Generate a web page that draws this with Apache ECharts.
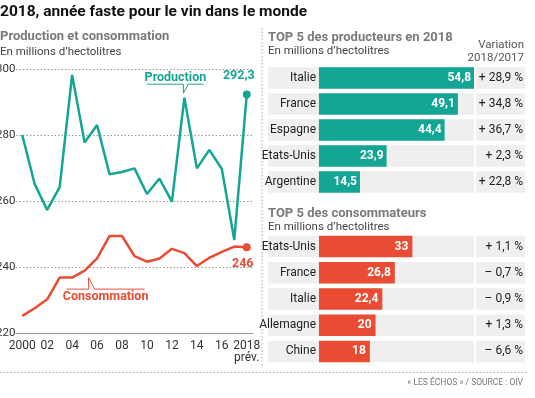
<!DOCTYPE html>
<html>
<head>
<meta charset="utf-8">
<script src="https://cdn.jsdelivr.net/npm/echarts@6/dist/echarts.min.js"></script>
<style>
html,body{margin:0;padding:0;background:#fff;}
#c{width:535px;height:398px;}
</style>
</head>
<body>
<div id="c"></div>
<script>
// ---- Data ----
const years = ['2000','2001','2002','2003','2004','2005','2006','2007','2008','2009','2010','2011','2012','2013','2014','2015','2016','2017','2018'];
const yearTickLabels = ['2000','01','02','03','04','05','06','07','08','09','10','11','12','13','14','15','16','17','2018\nprév.'];
const production = [280, 265.1, 257.3, 264.2, 298.2, 277.7, 283, 268.1, 268.8, 269.9, 262.1, 266.8, 259.8, 291.3, 269.9, 275.5, 269.7, 248.2, 292.3];
const consumption = [225.2, 227.5, 230.2, 236.8, 236.8, 238.9, 242.6, 249.4, 249.4, 243.3, 241.6, 242.6, 245.5, 244.2, 240.3, 242.8, 244.6, 246.2, 246];
const yTicks = [220, 240, 260, 280, 300];

const prodCountries = ['Italie','France','Espagne','Etats-Unis','Argentine'];
const prodValues = [54.8, 49.1, 44.4, 23.9, 14.5];
const prodVariation = ['+ 28,9 %','+ 34,8 %','+ 36,7 %','+ 2,3 %','+ 22,8 %'];

const consCountries = ['Etats-Unis','France','Italie','Allemagne','Chine'];
const consValues = [33, 26.8, 22.4, 20, 18];
const consVariation = ['+ 1,1 %','– 0,7 %','– 0,9 %','+ 1,3 %','– 6,6 %'];

// ---- Styles ----
const TEAL = '#15a594';
const RED = '#e94b33';
const BAND = '#efefef';
const FONT = 'Roboto';
const fmt = v => String(v).replace('.', ',');

const chart = echarts.init(document.getElementById('c'), null, {renderer: 'canvas'});

const lastIdx = years.length - 1;
const prodData = production.map((v, i) => i === lastIdx ? {value: v, symbol: 'circle', symbolSize: 8,
  label: {show: true, position: 'top', offset: [-8, -3], formatter: p => fmt(p.value), color: TEAL, fontWeight: 'bold', fontSize: 12.5, fontFamily: FONT}} : v);
const consData = consumption.map((v, i) => i === lastIdx ? {value: v, symbol: 'circle', symbolSize: 8,
  label: {show: true, position: 'bottom', offset: [-4, 0], distance: 6, formatter: p => fmt(p.value), color: RED, fontWeight: 'bold', fontSize: 12.5, fontFamily: FONT}} : v);

const barAxisMin = -18, barAxisMax = 72.8;

const option = {
  animation: false,
  textStyle: {fontFamily: FONT},
  grid: [
    {left: 16, top: 69, width: 237, height: 264, containLabel: false, outerBoundsMode: 'none'},
    {left: 268, top: 65, width: 257, height: 130, containLabel: false, outerBoundsMode: 'none'},
    {left: 268, top: 233.5, width: 257, height: 131, containLabel: false, outerBoundsMode: 'none'}
  ],
  xAxis: [
    {type: 'category', gridIndex: 0, data: years, boundaryGap: true,
     axisLine: {lineStyle: {color: '#999', width: 1}}, axisTick: {show: false},
     axisLabel: {interval: 1, margin: 7, color: '#333', fontSize: 12, fontFamily: FONT, lineHeight: 12,
       formatter: (v, i) => yearTickLabels[i]}},
    {type: 'value', gridIndex: 1, min: barAxisMin, max: barAxisMax, show: false},
    {type: 'value', gridIndex: 2, min: barAxisMin, max: barAxisMax, show: false}
  ],
  yAxis: [
    {type: 'value', gridIndex: 0, min: yTicks[0], max: yTicks[yTicks.length - 1], interval: 20,
     axisLine: {show: false}, axisTick: {show: false},
     axisLabel: {margin: 0.5, color: '#333', fontSize: 11.5, fontFamily: FONT},
     splitLine: {lineStyle: {color: '#999', type: [1.5, 2], width: 1}}},
    {type: 'category', gridIndex: 1, data: prodCountries, inverse: true, z: 10,
     axisLine: {show: false}, axisTick: {show: false}, splitLine: {show: false},
     axisLabel: {margin: -48, color: '#222', fontSize: 12, fontFamily: FONT}},
    {type: 'category', gridIndex: 1, data: prodVariation, inverse: true, position: 'right', z: 10,
     axisLine: {show: false}, axisTick: {show: false}, splitLine: {show: false},
     axisLabel: {inside: true, margin: 2, color: '#222', fontSize: 12, fontFamily: FONT}},
    {type: 'category', gridIndex: 2, data: consCountries, inverse: true, z: 10,
     axisLine: {show: false}, axisTick: {show: false}, splitLine: {show: false},
     axisLabel: {margin: -48, color: '#222', fontSize: 12, fontFamily: FONT}},
    {type: 'category', gridIndex: 2, data: consVariation, inverse: true, position: 'right', z: 10,
     axisLine: {show: false}, axisTick: {show: false}, splitLine: {show: false},
     axisLabel: {inside: true, margin: 2, color: '#222', fontSize: 12, fontFamily: FONT}}
  ],
  series: [
    {name: 'Production', type: 'line', xAxisIndex: 0, yAxisIndex: 0, data: prodData, symbol: 'none',
     showSymbol: true, lineStyle: {color: TEAL, width: 2.5}, itemStyle: {color: TEAL}, z: 3},
    {name: 'Consommation', type: 'line', xAxisIndex: 0, yAxisIndex: 0, data: consData, symbol: 'none',
     showSymbol: true, lineStyle: {color: RED, width: 2.5}, itemStyle: {color: RED}, z: 3},
    {name: 'Producteurs', type: 'bar', xAxisIndex: 1, yAxisIndex: 1, data: prodValues, barWidth: 21.5,
     itemStyle: {color: TEAL}, showBackground: true, backgroundStyle: {color: BAND},
     label: {show: true, position: 'insideRight', distance: 3, color: '#fff', fontWeight: 'bold', fontSize: 12, fontFamily: FONT,
       formatter: p => fmt(p.value)}},
    {name: 'Consommateurs', type: 'bar', xAxisIndex: 2, yAxisIndex: 3, data: consValues, barWidth: 21.5,
     itemStyle: {color: RED}, showBackground: true, backgroundStyle: {color: BAND},
     label: {show: true, position: 'insideRight', distance: 4, color: '#fff', fontWeight: 'bold', fontSize: 12, fontFamily: FONT,
       formatter: p => fmt(p.value)}}
  ]
};
chart.setOption(option);

// ---- Annotations (positions derived from data points) ----
function px(cat, val) { return chart.convertToPixel({xAxisIndex: 0, yAxisIndex: 0}, [cat, val]); }
const pPeak = px(years[13], production[13]);
const cPt = px(years[5], consumption[5]);

function txt(id, x, y, text, o) {
  return Object.assign({type: 'text', id: id, x: x, y: y, z: 20,
    style: Object.assign({text: text, fontFamily: FONT, fontSize: 12, fill: '#333', align: 'left', verticalAlign: 'middle'}, o || {})});
}
function dline(id, x1, y1, x2, y2) {
  return {type: 'line', id: id, z: 20, shape: {x1, y1, x2, y2}, style: {stroke: '#aaa', lineWidth: 1, lineDash: [1.5, 2]}};
}

const graphics = [
  txt('title', 0, 12, '2018, année faste pour le vin dans le monde', {fontSize: 15.5, fontWeight: 'bold', fill: '#111'}),
  txt('lt1', 0, 37, 'Production et consommation', {fontSize: 13, fontWeight: 'bold', fill: '#7a7a7a'}),
  txt('lt2', 0, 52, 'En millions d’hectolitres', {fontSize: 11.5, fill: '#444'}),
  txt('rt1', 268, 38, 'TOP 5 des producteurs en 2018', {fontSize: 13, fontWeight: 'bold', fill: '#7a7a7a'}),
  txt('rt2', 268, 51, 'En millions d’hectolitres', {fontSize: 11.5, fill: '#444'}),
  txt('var1', 524, 45, 'Variation', {fontSize: 11.5, fill: '#555', align: 'right'}),
  txt('var2', 524, 58, '2018/2017', {fontSize: 11.5, fill: '#555', align: 'right'}),
  txt('ct1', 268, 214, 'TOP 5 des consommateurs', {fontSize: 13, fontWeight: 'bold', fill: '#7a7a7a'}),
  txt('ct2', 268, 227, 'En millions d’hectolitres', {fontSize: 11.5, fill: '#444'}),
  txt('src', 523, 383, '« LES ÉCHOS » / SOURCE : OIV', {fontSize: 8.5, fill: '#777', align: 'right'}),
  dline('vsep', 262, 28, 262, 368),
  dline('hsep', 0, 372.5, 527, 372.5),
  {type: 'rect', id: 'gap1', z: 15, shape: {x: 474, y: 60, width: 2.2, height: 140}, style: {fill: '#fff'}},
  {type: 'rect', id: 'gap2', z: 15, shape: {x: 474, y: 228, width: 2.2, height: 142}, style: {fill: '#fff'}},
  // Production callout
  txt('prodLbl', pPeak[0] - 9, pPeak[1] - 20, 'Production', {fontSize: 12.5, fontWeight: 'bold', fill: TEAL, align: 'center'}),
  {type: 'polyline', id: 'prodLine', z: 20, shape: {points: [
     [pPeak[0] - 37, pPeak[1] - 13.5], [pPeak[0] - 1, pPeak[1] - 13.5], [pPeak[0] - 1, pPeak[1] - 4.5],
     [pPeak[0] + 4, pPeak[1] - 13.5], [pPeak[0] + 19, pPeak[1] - 13.5]]},
   style: {stroke: TEAL, lineWidth: 1, fill: null}},
  // Consumption callout
  txt('consLbl', cPt[0] + 21, cPt[1] + 26, 'Consommation', {fontSize: 12.5, fontWeight: 'bold', fill: RED, align: 'center'}),
  {type: 'polyline', id: 'consLine', z: 20, shape: {points: [
     [cPt[0] - 18, cPt[1] + 18.5], [cPt[0] + 4, cPt[1] + 18.5], [cPt[0] + 4, cPt[1] + 7],
     [cPt[0] + 10, cPt[1] + 18.5], [cPt[0] + 60, cPt[1] + 18.5]]},
   style: {stroke: RED, lineWidth: 1, fill: null}}
];
chart.setOption({graphic: graphics});
</script>
</body>
</html>
